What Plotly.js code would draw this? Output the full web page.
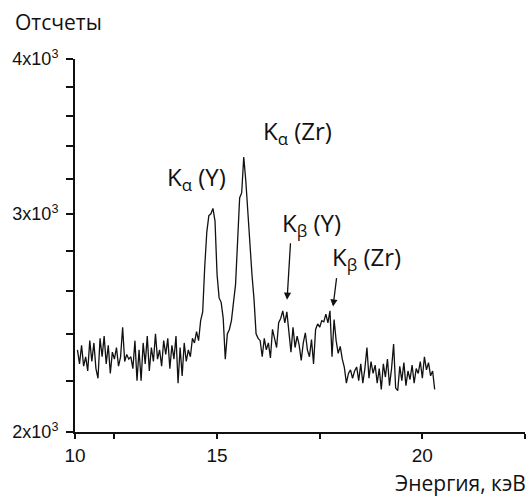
<!DOCTYPE html>
<html>
<head>
<meta charset="utf-8">
<script src="https://cdn.plot.ly/plotly-3.0.1.min.js"></script>
<style>html,body{margin:0;padding:0;background:#fff;}#chart{width:531px;height:499px;}</style>
</head>
<body>
<div id="chart"></div>
<script>
// Energy channels (keV)
const energy = [
 11.60,11.65,11.70,11.75,11.80,11.85,11.90,11.95,12.00,12.05,12.10,12.15,12.20,12.25,12.30,12.35,12.40,12.45,12.50,12.55,
 12.60,12.65,12.70,12.75,12.80,12.85,12.90,12.95,13.00,13.05,13.10,13.15,13.20,13.25,13.30,13.35,13.40,13.45,13.50,13.55,
 13.60,13.65,13.70,13.75,13.80,13.85,13.90,13.95,14.00,14.05,14.10,14.15,14.20,14.25,14.30,14.35,14.40,14.45,14.50,14.55,
 14.60,14.65,14.70,14.75,14.80,14.85,14.90,14.95,15.00,15.05,15.10,15.15,15.20,15.25,15.30,15.35,15.40,15.45,15.50,15.55,
 15.60,15.65,15.70,15.75,15.80,15.85,15.90,15.95,16.00,16.05,16.10,16.15,16.20,16.25,16.30,16.35,16.40,16.45,16.50,16.55,
 16.60,16.65,16.70,16.75,16.80,16.85,16.90,16.95,17.00,17.05,17.10,17.15,17.20,17.25,17.30,17.35,17.40,17.45,17.50,17.55,
 17.60,17.65,17.70,17.75,17.80,17.85,17.90,17.95,18.00,18.05,18.10,18.15,18.20,18.25,18.30,18.35,18.40,18.45,18.50,18.55,
 18.60,18.65,18.70,18.75,18.80,18.85,18.90,18.95,19.00,19.05,19.10,19.15,19.20,19.25,19.30,19.35,19.40,19.45,19.50,19.55,
 19.60,19.65,19.70,19.75,19.80,19.85,19.90,19.95,20.00,20.05,20.10,20.15,20.20,20.25,20.30
];
// Counts
const counts = [
 2330,2270,2350,2260,2300,2240,2370,2280,2360,2250,2210,2380,2300,2390,2270,2350,2230,2320,2290,2340,
 2260,2300,2430,2280,2310,2290,2300,2250,2370,2200,2330,2200,2360,2270,2390,2240,2340,2280,2400,2290,
 2330,2260,2370,2310,2380,2250,2350,2290,2390,2190,2340,2220,2360,2280,2330,2300,2380,2360,2410,2370,
 2460,2500,2720,2900,2990,3000,3030,2960,2680,2566,2545,2470,2290,2400,2420,2460,2545,2630,2850,3090,
 3120,3334,3190,3000,2820,2680,2560,2400,2380,2370,2300,2380,2330,2360,2295,2420,2380,2340,2450,2470,
 2505,2450,2500,2400,2320,2430,2340,2390,2350,2285,2360,2405,2330,2300,2375,2270,2420,2445,2430,2460,
 2455,2490,2450,2505,2300,2465,2370,2315,2345,2290,2255,2190,2230,2245,2210,2240,2257,2200,2270,2190,
 2250,2340,2210,2280,2230,2265,2190,2250,2165,2270,2215,2290,2180,2250,2355,2170,2160,2260,2200,2275,
 2180,2240,2205,2265,2190,2250,2230,2280,2210,2300,2245,2275,2220,2240,2165
];
// Axis ticks and labels
const xTickVals = [11.54, 12.5, 15, 17.5, 20, 22.5];
const xTickText = ["10", "", "15", "", "20", ""];
const yTickVals = [2000,2200,2400,2600,2800,3000,3200,3400,3600,3800,4000];
const yTickText = ["2x10<sup>3</sup>","","","","","3x10<sup>3</sup>","","","","","4x10<sup>3</sup>"];
// Peak labels
const peakLabels = ["K<sub>α</sub> (Y)", "K<sub>α</sub> (Zr)", "K<sub>β</sub> (Y)", "K<sub>β</sub> (Zr)"];
const peakLabelX = [14.49, 16.96, 17.31, 18.63];
const peakLabelY = [3207, 3493, 2943, 2763];
const arrowX = [16.705, 17.825];
const arrowY = [2557, 2525];

const trace = {
  x: energy, y: counts, type: 'scatter', mode: 'lines',
  line: {color: '#111', width: 1.3}, hoverinfo: 'skip'
};

const annFont = {family: 'Open Sans, Noto Sans, sans-serif', size: 24, color: '#111'};
const annotations = [];
for (let i = 0; i < peakLabels.length; i++) {
  annotations.push({x: peakLabelX[i], y: Math.log10(peakLabelY[i]), xref: 'x', yref: 'y',
    text: peakLabels[i], showarrow: false, font: annFont, xanchor: 'center', yanchor: 'middle'});
}
const arrowLen = [[3.5, -58], [3.7, -30]];
for (let i = 0; i < arrowX.length; i++) {
  annotations.push({x: arrowX[i], y: Math.log10(arrowY[i]), xref: 'x', yref: 'y', text: '',
    showarrow: true, arrowhead: 2, arrowsize: 1.1, arrowwidth: 1.3, arrowcolor: '#111',
    ax: arrowLen[i][0], ay: arrowLen[i][1]});
}
annotations.push({xref: 'paper', yref: 'paper', x: -0.138, y: 1.099, xanchor: 'left', yanchor: 'middle',
  text: 'Отсчеты', showarrow: false, font: {family: 'Open Sans, sans-serif', size: 21, color: '#111'}});
annotations.push({xref: 'paper', yref: 'paper', x: 1.006, y: -0.137, xanchor: 'right', yanchor: 'middle',
  text: 'Энергия, кэВ', showarrow: false, font: {family: 'Open Sans, sans-serif', size: 21, color: '#111'}});

const layout = {
  width: 531, height: 499,
  margin: {l: 75, r: 6, t: 59, b: 67},
  paper_bgcolor: '#fff', plot_bgcolor: '#fff',
  showlegend: false,
  xaxis: {
    range: [11.54, 22.5], showgrid: false, zeroline: false,
    showline: true, linecolor: '#111', linewidth: 2,
    ticks: 'outside', ticklen: 5, tickwidth: 2, tickcolor: '#111',
    tickmode: 'array', tickvals: xTickVals, ticktext: xTickText,
    tickfont: {family: 'Liberation Sans, Arial, sans-serif', size: 19, color: '#111'},
    ticklabelstandoff: 0
  },
  yaxis: {
    type: 'log', range: [Math.log10(2000), Math.log10(4000)], showgrid: false, zeroline: false,
    showline: true, linecolor: '#111', linewidth: 2,
    ticks: 'outside', ticklen: 7, tickwidth: 2, tickcolor: '#111',
    tickmode: 'array', tickvals: yTickVals, ticktext: yTickText,
    tickfont: {family: 'Liberation Sans, Arial, sans-serif', size: 18, color: '#111'},
    ticklabelstandoff: 4
  },
  annotations: annotations
};
Plotly.newPlot('chart', [trace], layout, {staticPlot: true, displayModeBar: false});
</script>
</body>
</html>
